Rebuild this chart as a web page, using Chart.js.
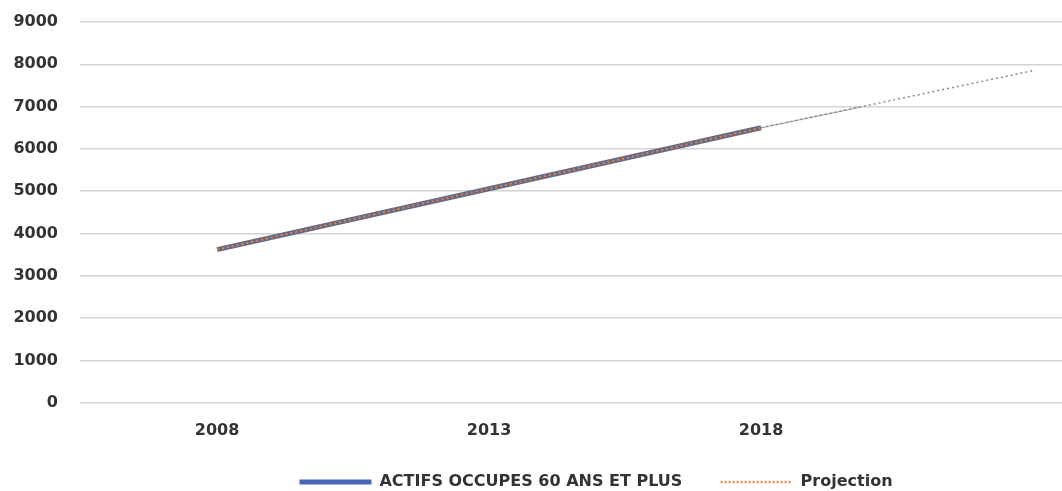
<!DOCTYPE html>
<html>
<head>
<meta charset="utf-8">
<script src="https://cdn.jsdelivr.net/npm/chart.js@4/dist/chart.umd.min.js"></script>
<style>
    html, body { margin: 0; padding: 0; background: #fff; overflow: hidden; }
    .wrap { width: 1190px; height: 500px; }
</style>
</head>
<body>
<div class="wrap"><canvas id="chart" width="1190" height="500"></canvas></div>
<script>
// data
const years = [2008, 2013, 2018];
const actifs = [3620, 5060, 6500];
const projYears = [2008, 2013, 2018, 2023];
const projection = [3620, 5060, 6500, 7850];
const trendYears = [2018, 2019.8];
const trendValues = [6500, 6980];
const yTicks = [0, 1000, 2000, 3000, 4000, 5000, 6000, 7000, 8000, 9000];
const xTicks = [2008, 2013, 2018];

const pts = (xs, ys) => xs.map((x, i) => ({ x: x, y: ys[i] }));

const ctx = document.getElementById('chart').getContext('2d');
const font = { family: 'DejaVu Sans', size: 16, weight: 'bold' };

new Chart(ctx, {
    type: 'line',
    data: {
        datasets: [
            {
                label: 'ACTIFS OCCUPES 60 ANS ET PLUS',
                data: pts(years, actifs),
                borderColor: '#646a88',
                borderWidth: 5,
                pointRadius: 0,
                order: 3
            },
            {
                label: 'Projection',
                data: pts(projYears, projection),
                borderColor: '#e8803a',
                borderWidth: 2,
                borderDash: [2, 3],
                pointRadius: 0,
                segment: {
                    borderColor: c => c.p0.parsed.x >= 2018 ? '#8a8a8a' : undefined,
                    borderWidth: c => c.p0.parsed.x >= 2018 ? 1.5 : undefined
                },
                order: 1
            },
            {
                label: 'trend',
                data: pts(trendYears, trendValues),
                borderColor: '#a0a0a0',
                borderWidth: 1.2,
                pointRadius: 0,
                order: 2
            }
        ]
    },
    options: {
        responsive: false,
        animation: false,
        layout: { padding: { left: 12, top: 22, right: 10, bottom: 0 } },
        scales: {
            x: {
                type: 'linear',
                min: 2005.48,
                max: 2025.7,
                grid: { display: false, drawTicks: false },
                border: { display: false },
                afterBuildTicks: axis => { axis.ticks = xTicks.map(v => ({ value: v })); },
                ticks: {
                    color: '#333',
                    font: font,
                    padding: 18,
                    maxRotation: 0,
                    callback: v => String(v)
                }
            },
            y: {
                min: 0,
                max: 9000,
                afterBuildTicks: axis => { axis.ticks = yTicks.map(v => ({ value: v })); },
                afterFit: axis => {
                    axis.width = 68;
                    axis.paddingTop = 0;
                    axis.paddingBottom = 0;
                },
                grid: { color: '#d2d2d2', lineWidth: 1.5, drawTicks: false },
                border: { display: false },
                ticks: {
                    color: '#333',
                    font: font,
                    padding: 22,
                    callback: v => String(v)
                }
            }
        },
        plugins: {
            tooltip: { enabled: false },
            legend: {
                position: 'bottom',
                labels: {
                    color: '#333',
                    font: font,
                    padding: 16,
                    usePointStyle: true,
                    pointStyleWidth: 72,
                    boxHeight: 16,
                    generateLabels: chart => [
                        // trailing spaces widen the gap before the second item
                        { text: 'ACTIFS OCCUPES 60 ANS ET PLUS    ', pointStyle: 'line', strokeStyle: '#4767b8', fillStyle: '#4767b8', lineWidth: 5, lineDash: [], datasetIndex: 0, fontColor: '#333' },
                        { text: 'Projection', pointStyle: 'line', strokeStyle: '#ee8a4a', fillStyle: '#ee8a4a', lineWidth: 2.5, lineDash: [2, 2], datasetIndex: 1, fontColor: '#333' }
                    ]
                }
            }
        }
    }
});
</script>
</body>
</html>
